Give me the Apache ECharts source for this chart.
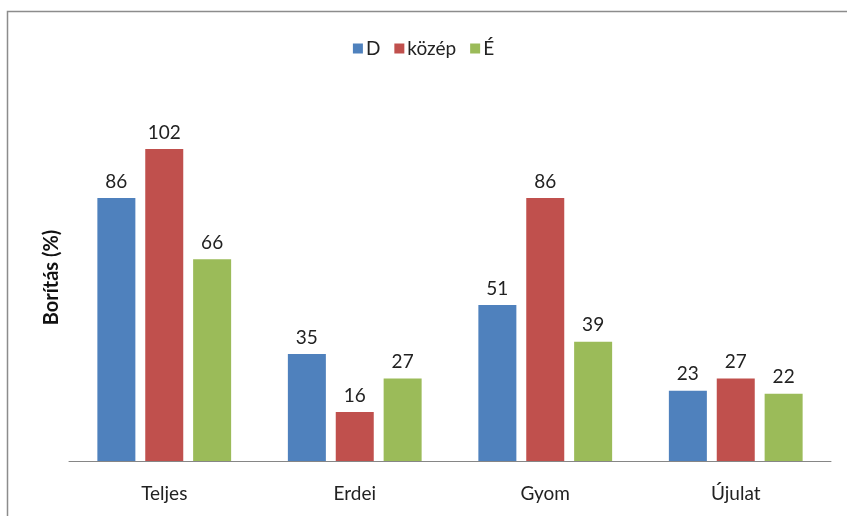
<!DOCTYPE html>
<html>
<head>
<meta charset="utf-8">
<script src="https://cdn.jsdelivr.net/npm/echarts@6/dist/echarts.min.js"></script>
<style>
  html, body { margin: 0; padding: 0; background: #fff; }
  #chart { width: 847px; height: 516px; }
</style>
</head>
<body>
<div id="chart"></div>
<script>
const categories = ['Teljes', 'Erdei', 'Gyom', 'Újulat']
const seriesNames = ['D', 'közép', 'É']
const valuesD = [86, 35, 51, 23]
const valuesKozep = [102, 16, 86, 27]
const valuesE = [66, 27, 39, 22]
const colors = ['#4F81BD', '#C0504D', '#9BBB59']

const font = 'Lato, "Open Sans", sans-serif'

const chart = echarts.init(document.getElementById('chart'))

const makeSeries = (name, data, color) => ({
  name: name,
  type: 'bar',
  data: data,
  barWidth: 38,
  barGap: '26%',
  itemStyle: { color: color },
  label: {
    show: true,
    position: 'top',
    distance: 7,
    color: '#222',
    fontSize: 19,
    fontFamily: font,
  },
})

chart.setOption({
  animation: false,
  graphic: [
    {
      type: 'rect',
      shape: { x: 7.5, y: 11.5, width: 1000, height: 1000 },
      style: { fill: 'none', stroke: '#8c8c8c', lineWidth: 1.5 },
      silent: true,
    },
  ],
  legend: {
    data: seriesNames,
    top: 34,
    left: 'center',
    itemWidth: 10,
    itemHeight: 10,
    itemGap: 14,
    icon: 'rect',
    textStyle: { fontSize: 19, color: '#222', fontFamily: font, padding: [0, 0, 0, -2] },
  },
  grid: {
    left: 69,
    right: 16,
    top: 94,
    bottom: 55,
  },
  xAxis: {
    type: 'category',
    data: categories,
    axisLine: { lineStyle: { color: '#868686', width: 1 } },
    axisTick: { show: false },
    axisLabel: { color: '#222', fontSize: 19, fontFamily: font, margin: 23 },
  },
  yAxis: {
    type: 'value',
    min: 0,
    max: 120,
    name: 'Borítás (%)',
    nameLocation: 'middle',
    nameGap: 7,
    nameRotate: 90,
    nameTextStyle: { fontSize: 20, fontWeight: 'bold', color: '#111', fontFamily: font },
    axisLine: { show: false },
    axisTick: { show: false },
    axisLabel: { show: false },
    splitLine: { show: false },
  },
  series: [
    makeSeries(seriesNames[0], valuesD, colors[0]),
    makeSeries(seriesNames[1], valuesKozep, colors[1]),
    makeSeries(seriesNames[2], valuesE, colors[2]),
  ],
})
</script>
</body>
</html>
